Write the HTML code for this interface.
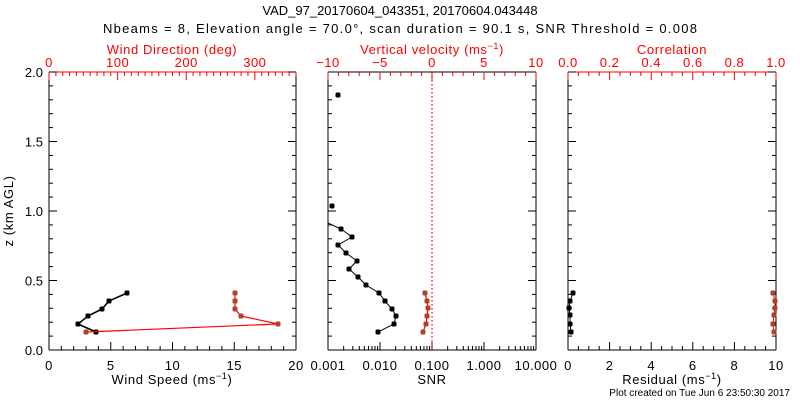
<!DOCTYPE html>
<html><head><meta charset="utf-8"><style>
html,body{margin:0;padding:0;background:#fff;}
svg{display:block;font-family:"Liberation Sans",sans-serif;}
</style></head><body>
<svg id="s" width="800" height="400" xmlns="http://www.w3.org/2000/svg">
<rect width="800" height="400" fill="#fff"/>
<text x="400" y="15" font-size="13" text-anchor="middle">VAD_97_20170604_043351, 20170604.043448</text>
<text x="103" y="33" font-size="13" textLength="594" lengthAdjust="spacing">Nbeams = 8, Elevation angle = 70.0°, scan duration = 90.1 s, SNR Threshold = 0.008</text>
<g font-size="13" fill="#f00" text-anchor="middle" letter-spacing="0.6">
<text x="172" y="54">Wind Direction (deg)</text>
<text x="432" y="54">Vertical velocity (ms<tspan dy="-5" font-size="9">−1</tspan><tspan dy="5">)</tspan></text>
<text x="672" y="54">Correlation</text>
</g>
<g font-size="13" text-anchor="middle" letter-spacing="0.6">
<text x="172" y="384">Wind Speed (ms<tspan dy="-5" font-size="9">−1</tspan><tspan dy="5">)</tspan></text>
<text x="432" y="384">SNR</text>
<text x="672" y="384">Residual (ms<tspan dy="-5" font-size="9">−1</tspan><tspan dy="5">)</tspan></text>
<text transform="translate(13,211) rotate(-90)">z (km AGL)</text>
</g>
<text x="790" y="396" font-size="10" text-anchor="end">Plot created on Tue Jun  6 23:50:30 2017</text>
<g id="g"></g>
</svg>
<script>
const g=document.getElementById('g');const NS='http://www.w3.org/2000/svg';
function el(t,a,txt){const e=document.createElementNS(NS,t);for(const k in a)e.setAttribute(k,a[k]);if(txt!==undefined)e.textContent=txt;g.appendChild(e);return e;}
function ln(x1,y1,x2,y2,c,w,d){const a={x1,y1,x2,y2,stroke:c||'#000','stroke-width':w||1};if(d)a['stroke-dasharray']=d;el('line',a);}
const T=72,B=350;
const zy=z=>B-z*139;
const panels=[[49,296],[328,536],[568,776]];
panels.forEach(([l,r],i)=>{
 ln(l,B,r,B);ln(l,T,l,B);ln(r,T,r,B);
 ln(l,T,r,T,(i==1)?'#000':'#f00');
 for(let k=0;k<=20;k++){const y=zy(k*0.1);const L=(k%5==0)?8:4;ln(l,y,l+L,y);ln(r,y,r-L,y);}
});
[0,0.5,1,1.5,2].forEach(z=>el('text',{x:43,y:zy(z)+5,'font-size':13,'text-anchor':'end'},z.toFixed(1)));
function lin(l,r,a,b,step,maj,labs,top,col){
 const n=Math.round((b-a)/step);
 for(let k=0;k<=n;k++){const v=a+k*step;const x=l+(v-a)/(b-a)*(r-l);const M=Math.abs(v/maj-Math.round(v/maj))<1e-6;const L=M?8:4;
  if(top)ln(x,T,x,T+L,col);else ln(x,B,x,B-L,col);}
 labs.forEach(([v,s])=>{const x=l+(v-a)/(b-a)*(r-l);el('text',{x,y:top?67:370,'font-size':13,'text-anchor':'middle',fill:col,'letter-spacing':0.5},s);});
}
lin(49,296,0,20,1,5,[[0,'0'],[5,'5'],[10,'10'],[15,'15'],[20,'20']],false,'#000');
lin(49,296,0,360,10,100,[[0,'0'],[100,'100'],[200,'200'],[300,'300']],true,'#f00');
lin(328,536,-10,10,1,5,[[-10,'−10'],[-5,'−5'],[0,'0'],[5,'5'],[10,'10']],true,'#f00');
lin(568,776,0,1,0.05,0.2,[[0,'0.0'],[0.2,'0.2'],[0.4,'0.4'],[0.6,'0.6'],[0.8,'0.8'],[1,'1.0']],true,'#f00');
lin(568,776,0,10,0.5,2,[[0,'0'],[2,'2'],[4,'4'],[6,'6'],[8,'8'],[10,'10']],false,'#000');
for(let d=0;d<4;d++)for(let m=1;m<10;m++){const x=328+52*(d+Math.log10(m));ln(x,B,x,B-(m==1?8:4));}
['0.001','0.010','0.100','1.000','10.000'].forEach((s,i)=>el('text',{x:328+52*i,y:370,'font-size':13,'text-anchor':'middle','letter-spacing':0.5},s));
ln(432,T,432,B,'#f00',1.2,'1.5,2.5');
function series(pts,lc,mc,lw,conn){
 if(conn)el('polyline',{points:pts.map(p=>p.join(',')).join(' '),fill:'none',stroke:lc,'stroke-width':lw});
 pts.forEach(p=>el('rect',{x:p[0]-2.5,y:p[1]-2.5,width:5,height:5,rx:1.5,fill:mc}));
}
series([[127,293],[109,301],[102,309],[88,316],[78,324],[96,332]],'#000','#000',1.6,true);
series([[235,293],[235,301],[235,309],[241,316],[278,324],[86,332]],'#f00','#b0402a',1.2,true);
series([[332,206]],'#000','#000',1,false);
series([[338,95]],'#000','#000',1,false);
el('polyline',{points:'328,223 341,229 352,237 338,245 346,253 357,261 349,269 358,277 366,285 379,293 385,301 392,309 396,316 394,324 378,332',fill:'none',stroke:'#000','stroke-width':1});
series([[341,229],[352,237],[338,245],[346,253],[357,261],[349,269],[358,277],[366,285],[379,293],[385,301],[392,309],[396,316],[394,324],[378,332]],'#000','#000',1,false);
series([[425,293],[427,301],[428,308],[427,316],[426,324],[423,332]],'#f00','#b0402a',1.2,true);
series([[573,293],[570,301],[569,308],[570,315],[570,324],[571,332]],'#000','#000',1,true);
series([[773,293],[775,301],[775,308],[774,315],[773,324],[774,332]],'#f00','#b0402a',1,true);
</script>
</body></html>
